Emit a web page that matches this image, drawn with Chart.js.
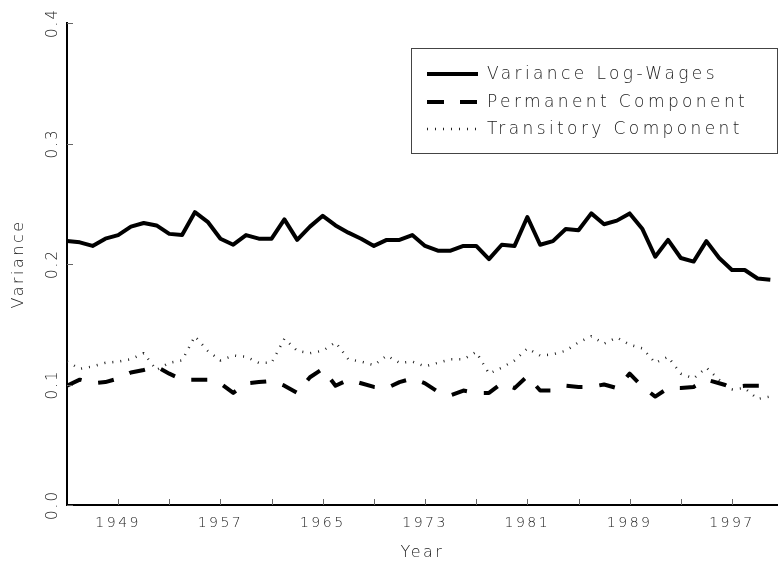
<!DOCTYPE html>
<html>
<head>
<meta charset="utf-8">
<script src="https://cdn.jsdelivr.net/npm/chart.js@4/dist/chart.umd.min.js"></script>
<style>
  html, body { margin: 0; padding: 0; background: #fff; overflow: hidden; }
  #wrap { width: 778px; height: 568px; }
</style>
</head>
<body>
<div id="wrap"><canvas id="chart"></canvas></div>
<script>
const years = [
  1945, 1946, 1947, 1948, 1949, 1950, 1951, 1952, 1953, 1954,
  1955, 1956, 1957, 1958, 1959, 1960, 1961, 1962, 1963, 1964,
  1965, 1966, 1967, 1968, 1969, 1970, 1971, 1972, 1973, 1974,
  1975, 1976, 1977, 1978, 1979, 1980, 1981, 1982, 1983, 1984,
  1985, 1986, 1987, 1988, 1989, 1990, 1991, 1992, 1993, 1994,
  1995, 1996, 1997, 1998, 1999, 2000
];
const varianceLogWages = [
  0.219, 0.218, 0.215, 0.221, 0.224, 0.231, 0.234, 0.232, 0.225, 0.224,
  0.243, 0.235, 0.221, 0.216, 0.224, 0.221, 0.221, 0.237, 0.220, 0.231,
  0.240, 0.232, 0.226, 0.221, 0.215, 0.220, 0.220, 0.224, 0.215, 0.211,
  0.211, 0.215, 0.215, 0.204, 0.216, 0.215, 0.239, 0.216, 0.219, 0.229,
  0.228, 0.242, 0.233, 0.236, 0.242, 0.229, 0.206, 0.220, 0.205, 0.202,
  0.219, 0.205, 0.195, 0.195, 0.188, 0.187
];
const permanentComponent = [
  0.099, 0.104, 0.101, 0.102, 0.105, 0.110, 0.112, 0.115, 0.109, 0.104,
  0.104, 0.104, 0.101, 0.093, 0.101, 0.102, 0.103, 0.099, 0.093, 0.106,
  0.113, 0.099, 0.104, 0.101, 0.098, 0.097, 0.102, 0.105, 0.101, 0.094,
  0.091, 0.095, 0.093, 0.093, 0.101, 0.097, 0.107, 0.095, 0.095, 0.099,
  0.098, 0.098, 0.100, 0.097, 0.109, 0.098, 0.090, 0.097, 0.097, 0.098,
  0.104, 0.101, 0.098, 0.099, 0.099, 0.099
];
const transitoryComponent = [
  0.119, 0.113, 0.115, 0.118, 0.119, 0.121, 0.126, 0.112, 0.118, 0.120,
  0.140, 0.128, 0.120, 0.124, 0.123, 0.118, 0.118, 0.138, 0.128, 0.126,
  0.128, 0.135, 0.121, 0.119, 0.116, 0.124, 0.118, 0.119, 0.115, 0.118,
  0.121, 0.121, 0.127, 0.109, 0.114, 0.120, 0.130, 0.124, 0.125, 0.128,
  0.135, 0.140, 0.134, 0.139, 0.133, 0.130, 0.118, 0.123, 0.109, 0.105,
  0.114, 0.104, 0.096, 0.097, 0.088, 0.090
];
const seriesLabels = ['Variance Log-Wages', 'Permanent Component', 'Transitory Component'];
const xTickYears = [1949, 1953, 1957, 1961, 1965, 1969, 1973, 1977, 1981, 1985, 1989, 1993, 1997];
const xTickLabels = ['1949', '1957', '1965', '1973', '1981', '1989', '1997'];
const yTickValues = [0, 0.1, 0.2, 0.3, 0.4];
const yTickLabels = ['0.0', '0.1', '0.2', '0.3', '0.4'];

const toPoints = vals => years.map((yr, i) => ({ x: yr, y: vals[i] }));

Chart.defaults.font.family = "'DejaVu Sans', sans-serif";
Chart.defaults.font.weight = '200';
Chart.defaults.color = '#222';

const lineStyles = [
  { borderWidth: 4, borderDash: [] },
  { borderWidth: 4, borderDash: [16, 17] },
  { borderWidth: 2.5, borderDash: [1, 7] }
];

// inward tick marks, rotated y labels and the boxed legend
const decorations = {
  id: 'decorations',
  beforeDraw(chart) {
    chart.ctx.letterSpacing = '2.5px';
  },
  afterDraw(chart) {
    const { ctx, chartArea, scales } = chart;
    const xs = scales.x, ys = scales.y;
    ctx.save();
    ctx.strokeStyle = '#666';
    ctx.lineWidth = 1;
    ctx.beginPath();
    xTickYears.forEach(v => {
      const px = Math.round(xs.getPixelForValue(v)) + 0.5;
      ctx.moveTo(px, chartArea.bottom);
      ctx.lineTo(px, chartArea.bottom - 6);
    });
    yTickValues.forEach(v => {
      const py = Math.round(ys.getPixelForValue(v)) + 0.5;
      ctx.moveTo(chartArea.left, py);
      ctx.lineTo(chartArea.left + 6, py);
    });
    ctx.stroke();

    ctx.fillStyle = '#222';
    ctx.font = "200 15px 'DejaVu Sans', sans-serif";
    ctx.letterSpacing = '2px';
    ctx.textAlign = 'center';
    ctx.textBaseline = 'middle';
    yTickValues.forEach((v, i) => {
      ctx.save();
      ctx.translate(53, ys.getPixelForValue(v));
      ctx.rotate(-Math.PI / 2);
      ctx.fillText(yTickLabels[i], 0, 0);
      ctx.restore();
    });

    // legend box
    const bx = 411.5, by = 48.5, bw = 366, bh = 105;
    ctx.strokeStyle = '#444';
    ctx.lineWidth = 1;
    ctx.strokeRect(bx, by, bw, bh);
    const rows = [74, 102, 129];
    ctx.font = "200 17px 'DejaVu Sans', sans-serif";
    ctx.letterSpacing = '3.4px';
    ctx.textAlign = 'left';
    chart.data.datasets.forEach((ds, i) => {
      const y = rows[i];
      ctx.save();
      ctx.strokeStyle = ds.borderColor;
      ctx.lineWidth = ds.borderWidth;
      ctx.setLineDash(i === 1 ? [17, 16] : ds.borderDash);
      ctx.beginPath();
      ctx.moveTo(427, y);
      ctx.lineTo(478, y);
      ctx.stroke();
      ctx.restore();
      ctx.fillText(ds.label, 487, y + 1);
    });
    ctx.restore();
  }
};

new Chart(document.getElementById('chart'), {
  type: 'line',
  data: {
    datasets: [varianceLogWages, permanentComponent, transitoryComponent].map((vals, i) => ({
      label: seriesLabels[i],
      data: toPoints(vals),
      borderColor: i === 2 ? '#222' : '#000',
      borderWidth: lineStyles[i].borderWidth,
      borderDash: lineStyles[i].borderDash,
      borderCapStyle: 'butt',
      borderJoinStyle: 'round',
      pointRadius: 0,
      tension: 0,
      fill: false
    }))
  },
  options: {
    responsive: true,
    maintainAspectRatio: false,
    animation: false,
    layout: { padding: { top: 23, right: 0, left: 0, bottom: 0 } },
    plugins: {
      legend: { display: false },
      tooltip: { enabled: false }
    },
    scales: {
      x: {
        type: 'linear',
        min: 1945,
        max: 2000.6,
        afterBuildTicks: scale => { scale.ticks = xTickYears.map(v => ({ value: v })); },
        afterFit: scale => { scale.height = 63; },
        grid: { display: false, drawTicks: false },
        border: { display: true, color: '#000', width: 2 },
        ticks: {
          autoSkip: false,
          maxRotation: 0,
          padding: 10,
          font: { size: 14 },
          callback: v => (xTickLabels.includes(String(v)) ? String(v) : '')
        },
        title: {
          display: true,
          text: 'Year',
          font: { size: 16 },
          padding: { top: 0, bottom: 6 }
        }
      },
      y: {
        min: 0,
        max: 0.4,
        afterFit: scale => { scale.width = 67; },
        grid: { display: false, drawTicks: false },
        border: { display: true, color: '#000', width: 2 },
        ticks: { display: false },
        title: {
          display: true,
          text: 'Variance',
          font: { size: 16 },
          padding: { top: 9, bottom: 0 }
        }
      }
    }
  },
  plugins: [decorations]
});
</script>
</body>
</html>
